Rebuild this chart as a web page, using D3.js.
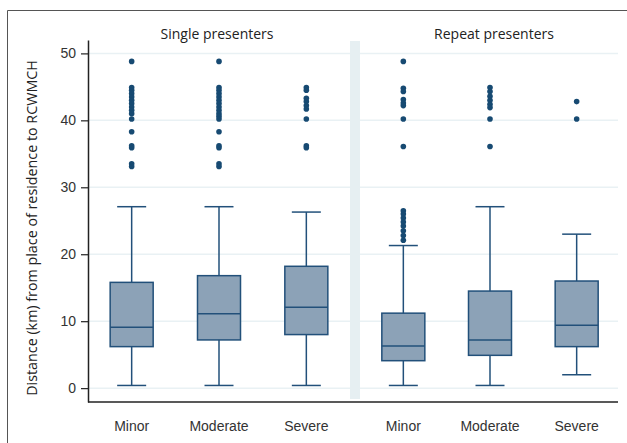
<!DOCTYPE html>
<html>
<head>
<meta charset="utf-8">
<script src="https://cdn.jsdelivr.net/npm/d3@7"></script>
<style>
  body { margin: 0; background: #fff; }
  svg { font-family: "Open Sans", "Noto Sans", sans-serif; }
  .tick text { font-size: 14px; fill: #333; }
</style>
</head>
<body>
<script>
// panels and categories
var panels = ["Single presenters", "Repeat presenters"];
var categories = ["Minor", "Moderate", "Severe"];
var yTicks = [0, 10, 20, 30, 40, 50];

// box stats, order: single minor/moderate/severe, repeat minor/moderate/severe
var whiskLo = [0.4, 0.4, 0.4, 0.4, 0.4, 2.0];
var q1 = [6.2, 7.2, 8.0, 4.1, 4.9, 6.2];
var median = [9.1, 11.1, 12.1, 6.3, 7.2, 9.4];
var q3 = [15.8, 16.8, 18.2, 11.2, 14.5, 16.0];
var whiskHi = [27.1, 27.1, 26.3, 21.3, 27.1, 23.0];
var outliers = [
    [48.8, 44.9, 44.5, 44.0, 43.5, 43.0, 42.5, 42.0, 41.5, 41.0, 40.2, 38.3, 36.2, 35.9, 33.5, 33.1],
    [48.8, 44.9, 44.5, 44.0, 43.5, 43.0, 42.5, 42.0, 41.5, 41.0, 40.6, 40.2, 38.3, 36.2, 35.9, 33.5, 33.1],
    [44.9, 44.5, 43.3, 42.8, 42.2, 41.7, 40.2, 36.2, 35.9],
    [48.8, 44.8, 44.3, 43.1, 42.6, 42.2, 40.2, 36.1, 26.5, 26.0, 25.4, 24.8, 24.2, 23.5, 22.8, 22.1],
    [44.9, 44.3, 43.6, 43.0, 42.4, 41.9, 40.2, 36.1],
    [42.8, 40.2]
];

var W = 627, H = 443;
var svg = d3.select("body").append("svg")
    .attr("width", W)
    .attr("height", H);

// outer frame (only top and left visible)
svg.append("path")
    .attr("d", "M7.5," + H + "V10.5H" + W)
    .attr("fill", "none")
    .attr("stroke", "#555")
    .attr("stroke-width", 1);

var plotLeft = 88, plotRight = 618, plotTop = 40, plotBottom = 402;
var y = d3.scaleLinear()
    .domain([-2.07, 52])
    .range([plotBottom, plotTop]);

var xRanges = [[88, 350], [360, 620]];
var xs = xRanges.map(function (r) {
    return d3.scaleBand().domain(categories).range(r);
});

//grid lines
svg.append("g").selectAll("line")
    .data(yTicks)
    .enter().append("line")
    .attr("x1", plotLeft + 1)
    .attr("x2", plotRight)
    .attr("y1", function (d) { return y(d); })
    .attr("y2", function (d) { return y(d); })
    .attr("stroke", "#e9f1f4")
    .attr("stroke-width", 1.5);

//separator band
svg.append("rect")
    .attr("x", 350)
    .attr("y", 41)
    .attr("width", 10)
    .attr("height", 358)
    .attr("fill", "#e6eff2");

//y axis
var yAxis = svg.append("g")
    .attr("transform", "translate(" + plotLeft + ",0)")
    .call(d3.axisLeft(y).tickValues(yTicks).tickSize(7).tickSizeOuter(0).tickPadding(5));
yAxis.select(".domain").attr("stroke", "#222").attr("stroke-width", 1.5);
yAxis.selectAll(".tick line").attr("stroke", "#222").attr("stroke-width", 1.2);

//x axis line
svg.append("line")
    .attr("x1", plotLeft)
    .attr("x2", plotRight)
    .attr("y1", plotBottom)
    .attr("y2", plotBottom)
    .attr("stroke", "#222")
    .attr("stroke-width", 1.5);

xs.forEach(function (x) {
    var g = svg.append("g")
        .attr("transform", "translate(0," + plotBottom + ")")
        .call(d3.axisBottom(x).tickSize(0).tickPadding(19));
    g.select(".domain").remove();
});

//panel titles
svg.append("g").selectAll("text")
    .data(panels)
    .enter().append("text")
    .text(function (d) { return d; })
    .attr("x", function (d, i) { return (xRanges[i][0] + xRanges[i][1]) / 2 + (i ? 4 : -2); })
    .attr("y", 39)
    .attr("text-anchor", "middle")
    .attr("font-size", 14)
    .attr("fill", "#222");

//y label
svg.append("text")
    .text("Distance (km) from place of residence to RCWMCH")
    .attr("transform", "translate(37," + (plotTop + plotBottom + 14) / 2 + ") rotate(-90)")
    .attr("text-anchor", "middle")
    .attr("font-size", 14.3)
    .attr("fill", "#222");

// boxes
var boxes = [];
panels.forEach(function (p, pi) {
    categories.forEach(function (c, ci) {
        var k = pi * 3 + ci;
        boxes.push({ panel: pi, cat: c, lo: whiskLo[k], q1: q1[k], med: median[k], q3: q3[k], hi: whiskHi[k], out: outliers[k] });
    });
});

var stroke = "#22507a", fill = "#8ca2b7";
var bw = 43, cw = 29;
var bg = svg.append("g").selectAll("g")
    .data(boxes)
    .enter().append("g")
    .attr("transform", function (d) {
        var x = xs[d.panel];
        return "translate(" + (x(d.cat) + x.bandwidth() / 2) + ",0)";
    });

bg.append("line")
    .attr("y1", function (d) { return y(d.hi); })
    .attr("y2", function (d) { return y(d.lo); })
    .attr("stroke", stroke)
    .attr("stroke-width", 1.5);
bg.append("line")
    .attr("x1", -cw / 2).attr("x2", cw / 2)
    .attr("y1", function (d) { return y(d.hi); })
    .attr("y2", function (d) { return y(d.hi); })
    .attr("stroke", stroke)
    .attr("stroke-width", 1.5);
bg.append("line")
    .attr("x1", -cw / 2).attr("x2", cw / 2)
    .attr("y1", function (d) { return y(d.lo); })
    .attr("y2", function (d) { return y(d.lo); })
    .attr("stroke", stroke)
    .attr("stroke-width", 1.5);
bg.append("rect")
    .attr("x", -bw / 2)
    .attr("width", bw)
    .attr("y", function (d) { return y(d.q3); })
    .attr("height", function (d) { return y(d.q1) - y(d.q3); })
    .attr("fill", fill)
    .attr("stroke", stroke)
    .attr("stroke-width", 1.5);
bg.append("line")
    .attr("x1", -bw / 2).attr("x2", bw / 2)
    .attr("y1", function (d) { return y(d.med); })
    .attr("y2", function (d) { return y(d.med); })
    .attr("stroke", stroke)
    .attr("stroke-width", 1.5);
bg.selectAll("circle")
    .data(function (d) { return d.out; })
    .enter().append("circle")
    .attr("cx", 0)
    .attr("cy", function (d) { return y(d); })
    .attr("r", 2.8)
    .attr("fill", "#174a72");
</script>
</body>
</html>
